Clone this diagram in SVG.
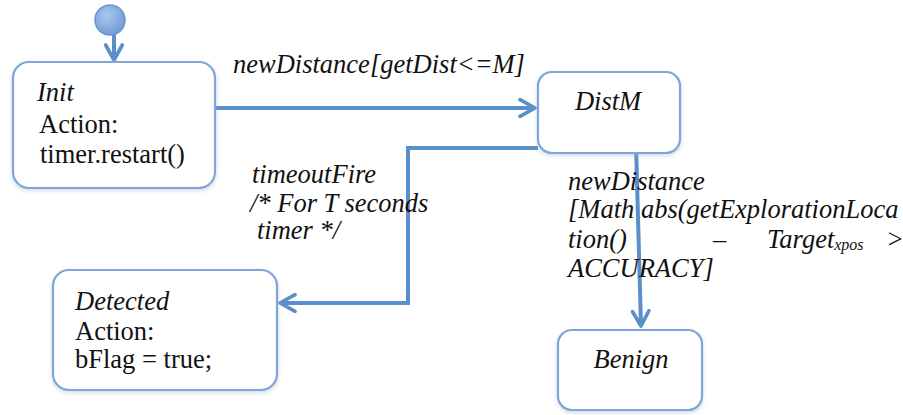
<svg xmlns="http://www.w3.org/2000/svg" width="903" height="415" viewBox="0 0 903 415">
  <style>
    .state { fill: #ffffff; stroke: #7ea6d8; stroke-width: 2.2; filter: url(#shadow); }
    .wire { fill: none; stroke: #5b8fcb; stroke-width: 4; stroke-linejoin: miter; }
    text { font-family: "Liberation Serif", "Times New Roman", serif; font-size: 26.5px; fill: #111111; }
    .it { font-style: italic; }
  </style>
  <defs>
    <marker id="chev" viewBox="0 0 12 12" refX="10" refY="6" markerWidth="5" markerHeight="5" markerUnits="strokeWidth" orient="auto">
      <path d="M1,1 L10,6 L1,11" fill="none" stroke="#5b8fcb" stroke-width="2.2" stroke-linecap="round" stroke-linejoin="round"/>
    </marker>
    <radialGradient id="dot" cx="0.4" cy="0.35" r="0.7">
      <stop offset="0" stop-color="#a9c7ee"/>
      <stop offset="1" stop-color="#6f9bd3"/>
    </radialGradient>
    <filter id="shadow" x="-10%" y="-10%" width="120%" height="125%">
      <feDropShadow dx="0" dy="2" stdDeviation="2" flood-color="#9fb4cc" flood-opacity="0.45"/>
    </filter>
  </defs>

  <!-- initial pseudo-state -->
  <g id="start">
    <circle cx="110" cy="20" r="15" fill="url(#dot)" stroke="#6a96cf" stroke-width="1.5"/>
  </g>

  <!-- transitions -->
  <g id="connectors">
    <path class="wire" d="M114,35 L114,60" marker-end="url(#chev)"/>
    <path class="wire" d="M215,108 L535,108" marker-end="url(#chev)"/>
    <path class="wire" d="M538,148 L408,148 L408,303 L280,303" marker-end="url(#chev)"/>
    <path class="wire" d="M636,145 L641,326" marker-end="url(#chev)"/>
  </g>

  <g id="init">
    <rect class="state" x="13" y="62" width="202" height="126" rx="16"/>
    <text class="it" x="37" y="101">Init</text>
    <text x="39" y="133">Action:</text>
    <text x="40" y="163">timer.restart()</text>
  </g>

  <g id="distm">
    <rect class="state" x="538" y="72" width="142" height="81" rx="14"/>
    <text class="it" x="608" y="110" text-anchor="middle">DistM</text>
  </g>

  <g id="detected">
    <rect class="state" x="53" y="270" width="224" height="120" rx="16"/>
    <text class="it" x="75" y="310">Detected</text>
    <text x="75" y="340">Action:</text>
    <text x="75" y="368">bFlag = true;</text>
  </g>

  <g id="benign">
    <rect class="state" x="558" y="330" width="144" height="80" rx="14"/>
    <text class="it" x="631" y="368" text-anchor="middle">Benign</text>
  </g>

  <!-- transition labels -->
  <g id="labels">
    <text class="it" x="233" y="73">newDistance[getDist&lt;=M]</text>
    <text class="it" x="252" y="183">timeoutFire</text>
    <text class="it" x="250" y="212">/* For T seconds</text>
    <text class="it" x="257" y="239">timer */</text>
    <text class="it" x="568" y="190">newDistance</text>
    <text class="it" x="568" y="218">[Math abs(getExplorationLoca</text>
    <text class="it" x="568" y="248">tion()</text>
    <text class="it" x="713" y="248">–</text>
    <text class="it" x="767" y="248">Target<tspan font-size="16" dy="2">xpos</tspan></text>
    <text class="it" x="886" y="248">&gt;</text>
    <text class="it" x="568" y="277">ACCURACY]</text>
  </g>
</svg>
